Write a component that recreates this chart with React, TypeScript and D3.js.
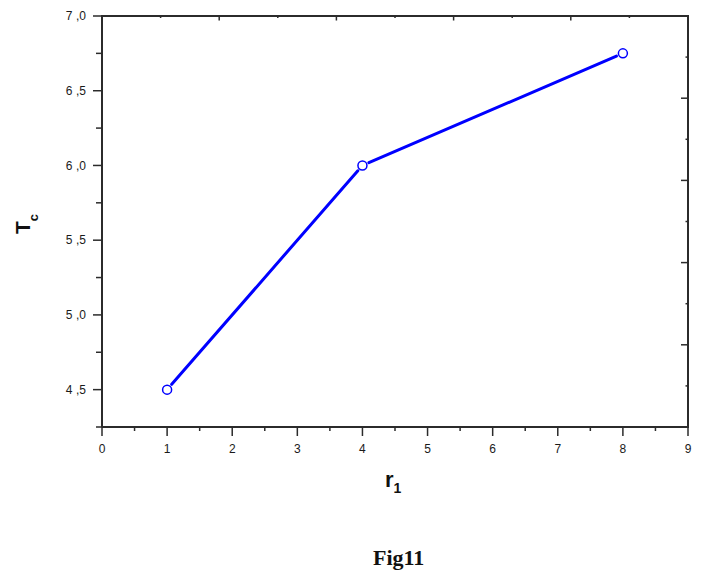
import * as d3 from 'd3';
import React from 'react';

// data
const r1Values = [1, 4, 8];
const tcValues = [4.5, 6.0, 6.75];

// tick labels (comma decimals like the original)
const xTickValues = [0, 1, 2, 3, 4, 5, 6, 7, 8, 9];
const xMinorTicks = [0.5, 1.5, 2.5, 3.5, 4.5, 5.5, 6.5, 7.5, 8.5];
const yTickValues = [4.5, 5.0, 5.5, 6.0, 6.5, 7.0];
const yTickLabels = ['4,5', '5,0', '5,5', '6,0', '6,5', '7,0'];
const yMinorTicks = [4.25, 4.75, 5.25, 5.75, 6.25, 6.75];

// top / right axes of the frame have their own (unlabelled) ticks
const frameMajor = [1, 2, 3, 4];
const frameMinor = [0.5, 1.5, 2.5, 3.5, 4.5];

const App = () => {
  const width = 706;
  const height = 580;
  const left = 102;
  const right = 688;
  const top = 16;
  const bottom = 427;

  const x = d3.scaleLinear().domain([0, 9]).range([left, right]);
  const y = d3.scaleLinear().domain([4.25, 7.0]).range([bottom, top]);
  const xTop = d3.scaleLinear().domain([0, 5]).range([left, right]);
  const yRight = d3.scaleLinear().domain([0, 5]).range([bottom, top]);

  const axisColor = '#2b2b2b';
  const blue = '#0000ff';

  const pts = r1Values.map((v, i) => [x(v), y(tcValues[i])]);

  // line segments stop short of the markers, like Origin does
  const gap = 7;
  const segments = pts.slice(1).map((p, i) => {
    const a = pts[i];
    const dx = p[0] - a[0];
    const dy = p[1] - a[1];
    const len = Math.hypot(dx, dy);
    const ux = dx / len;
    const uy = dy / len;
    return d3.line()([
      [a[0] + ux * gap, a[1] + uy * gap],
      [p[0] - ux * gap, p[1] - uy * gap],
    ]);
  });

  const tickFont = { fontFamily: '"Liberation Sans", Arial, sans-serif', fontSize: 12, fill: '#1a1a1a' };

  return (
    <svg width={width} height={height} style={{ position: 'absolute', left: 0, top: 0, background: '#fff' }}>
      {/* frame */}
      <g stroke={axisColor} strokeWidth={2} fill="none">
        <line x1={left} y1={bottom} x2={left} y2={top} />
        <line x1={left} y1={bottom} x2={right} y2={bottom} />
        <line x1={left - 1} y1={top} x2={right + 1} y2={top} />
        <line x1={right} y1={top} x2={right} y2={bottom + 1} />
      </g>

      {/* ticks: left/bottom outward, top/right inward */}
      <g stroke={axisColor} strokeWidth={1.5}>
        {xTickValues.map((t) => (
          <line key={'xM' + t} x1={x(t)} x2={x(t)} y1={bottom} y2={bottom + 9} />
        ))}
        {xMinorTicks.map((t) => (
          <line key={'xm' + t} x1={x(t)} x2={x(t)} y1={bottom} y2={bottom + 4} />
        ))}
        {yTickValues.map((t) => (
          <line key={'yM' + t} x1={left - 9} x2={left} y1={y(t)} y2={y(t)} />
        ))}
        {yMinorTicks.map((t) => (
          <line key={'ym' + t} x1={left - 6} x2={left} y1={y(t)} y2={y(t)} />
        ))}
        {frameMajor.map((t) => (
          <line key={'tM' + t} x1={xTop(t)} x2={xTop(t)} y1={top} y2={top + 4.5} />
        ))}
        {frameMinor.map((t) => (
          <line key={'tm' + t} x1={xTop(t)} x2={xTop(t)} y1={top} y2={top + 2} />
        ))}
        {frameMajor.map((t) => (
          <line key={'rM' + t} x1={right - 7} x2={right} y1={yRight(t)} y2={yRight(t)} />
        ))}
        {frameMinor.map((t) => (
          <line key={'rm' + t} x1={right - 2.5} x2={right} y1={yRight(t)} y2={yRight(t)} />
        ))}
      </g>

      {/* tick labels */}
      <g {...tickFont}>
        {xTickValues.map((t) => (
          <text key={'xl' + t} x={x(t)} y={453} textAnchor="middle">
            {t}
          </text>
        ))}
        {yTickValues.map((t, i) => {
          const [a, b] = yTickLabels[i].split(',');
          return (
            <text key={'yl' + t} x={86} y={y(t) + 4.3} textAnchor="end">
              {a}
              <tspan dx={3.5}>{',' + b}</tspan>
            </text>
          );
        })}
      </g>

      {/* axis titles */}
      <text
        transform={`translate(30,224) rotate(-90)`}
        textAnchor="middle"
        fontFamily='"Liberation Sans", Arial, sans-serif'
        fontWeight="bold"
        fontSize={21}
        fill="#111"
      >
        T
        <tspan fontSize={13} dy={8}>
          c
        </tspan>
      </text>
      <text x={385} y={487} fontFamily='"Liberation Sans", Arial, sans-serif' fontWeight="bold" fontSize={22} fill="#111">
        r
        <tspan fontSize={14} dy={6}>
          1
        </tspan>
      </text>

      {/* data */}
      <g stroke={blue} strokeWidth={3} fill="none" strokeLinecap="round">
        {segments.map((d, i) => (
          <path key={i} d={d ?? ''} />
        ))}
      </g>
      <g stroke={blue} strokeWidth={1.5} fill="#fff">
        {pts.map((p, i) => (
          <circle key={i} cx={p[0]} cy={p[1]} r={4.5} />
        ))}
      </g>

      {/* caption */}
      <text x={373} y={565} fontFamily='"Liberation Serif", "DejaVu Serif", serif' fontWeight="bold" fontSize={22} fill="#111">
        Fig11
      </text>
    </svg>
  );
};

export default App;
